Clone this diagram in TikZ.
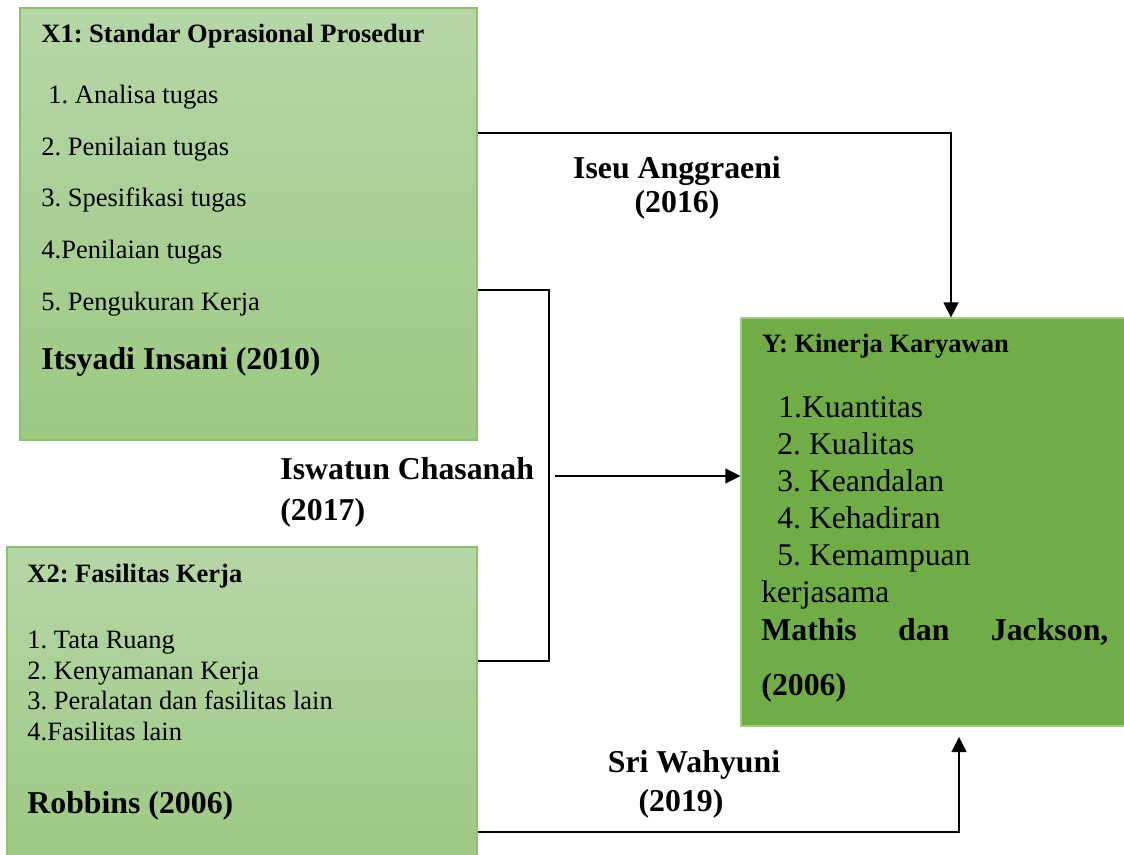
\documentclass[tikz,border=0pt]{standalone}
\usepackage{fontspec}
\setmainfont{Liberation Serif}
\usetikzlibrary{arrows.meta,fit}
\definecolor{lgtop}{RGB}{182,214,167}
\definecolor{lgbot}{RGB}{157,201,131}
\definecolor{lgborder}{RGB}{140,194,110}
\definecolor{ygreen}{RGB}{112,173,71}
\definecolor{yborder}{RGB}{160,205,130}
\frenchspacing
\begin{document}
\begin{tikzpicture}[x=0.5pt,y=-0.5pt,
  lightbox/.style={draw=lgborder, line width=0.8pt, top color=lgtop, bottom color=lgbot, inner sep=0pt},
  darkbox/.style={draw=yborder, line width=0.6pt, fill=ygreen, inner sep=0pt},
  txt/.style={anchor=base west, inner sep=0pt, font=\frenchspacing\fontsize{13.25pt}{15pt}\selectfont},
  btxt/.style={anchor=base west, inner sep=0pt, font=\frenchspacing\bfseries\fontsize{13.25pt}{15pt}\selectfont},
  blab/.style={anchor=base west, inner sep=0pt, font=\frenchspacing\bfseries\fontsize{15.9pt}{19pt}\selectfont},
  clab/.style={anchor=base, inner sep=0pt, font=\frenchspacing\bfseries\fontsize{15.9pt}{19pt}\selectfont},
  ytxt/.style={anchor=base west, inner sep=0pt, font=\frenchspacing\fontsize{15.8pt}{19pt}\selectfont},
  conn/.style={line width=0.6pt, black},
  arr/.style={conn, -{Triangle[length=7.5pt,width=7.5pt]}}]
\useasboundingbox (0,0) rectangle (1124,855);
\fill[white] (0,0) rectangle (1124,855);

% boxes
\node[lightbox, fit={(20,8)(477,440)}] (x1) {};
\node[lightbox, fit={(7,547)(477,862)}] (x2) {};
\node[darkbox, fit={(741,318)(1128,726)}] (y) {};

% X1 texts
\node[btxt] (x1t) at (41,43) {X1: Standar Oprasional Prosedur};
\node[txt] (x1a) at (48,104) {1. Analisa tugas};
\node[txt] (x1b) at (41,156) {2. Penilaian tugas};
\node[txt] (x1c) at (41,207) {3. Spesifikasi tugas};
\node[txt] (x1d) at (41,259) {4.Penilaian tugas};
\node[txt] (x1e) at (41,311) {5. Pengukuran Kerja};
\node[blab] (x1s) at (41,370) {Itsyadi Insani (2010)};

% X2 texts
\node[btxt] (x2t) at (27,582) {X2: Fasilitas Kerja};
\node[txt] (x2a) at (27,648) {1. Tata Ruang};
\node[txt] (x2b) at (27,679) {2. Kenyamanan Kerja};
\node[txt] (x2c) at (27,709) {3. Peralatan dan fasilitas lain};
\node[txt] (x2d) at (27,740) {4.Fasilitas lain};
\node[blab] (x2s) at (27,813) {Robbins (2006)};

% Y texts
\node[btxt] (yt) at (762,353) {Y: Kinerja Karyawan};
\node[ytxt] (ya) at (778,417) {1.Kuantitas};
\node[ytxt] (yb) at (777,454) {2. Kualitas};
\node[ytxt] (yc) at (777,491) {3. Keandalan};
\node[ytxt] (yd) at (777,528) {4. Kehadiran};
\node[ytxt] (ye) at (777,565) {5. Kemampuan};
\node[ytxt] (yf) at (761,602) {kerjasama};
\node[blab] (ys1) at (761,640) {\makebox[173.5pt][s]{Mathis\hfill dan\hfill Jackson,}};
\node[blab] (ys2) at (761,695) {(2006)};

% connector labels
\node[clab] (l1a) at (677,179) {Iseu Anggraeni};
\node[clab] (l1b) at (677,213) {(2016)};
\node[blab] (l2a) at (280,480) {Iswatun Chasanah};
\node[blab] (l2b) at (280,520) {(2017)};
\node[clab] (l3a) at (694,772) {Sri Wahyuni};
\node[clab] (l3b) at (681,811) {(2019)};

% connectors
\coordinate (c1) at (951,133);
\draw[arr] (x1.east |- c1) -| (y.north -| c1);

\coordinate (b1) at (549,290);
\coordinate (b2) at (549,661);
\draw[conn] (x1.east |- b1) -- (b1) -- (b2) -- (x2.east |- b2);

\coordinate (m1) at (555,476);
\draw[arr] (m1) -- (y.west |- m1);

\coordinate (d1) at (959,832);
\coordinate (d2) at (959,737);
\draw[arr] (x2.east |- d1) -| (d2);
\end{tikzpicture}
\end{document}
